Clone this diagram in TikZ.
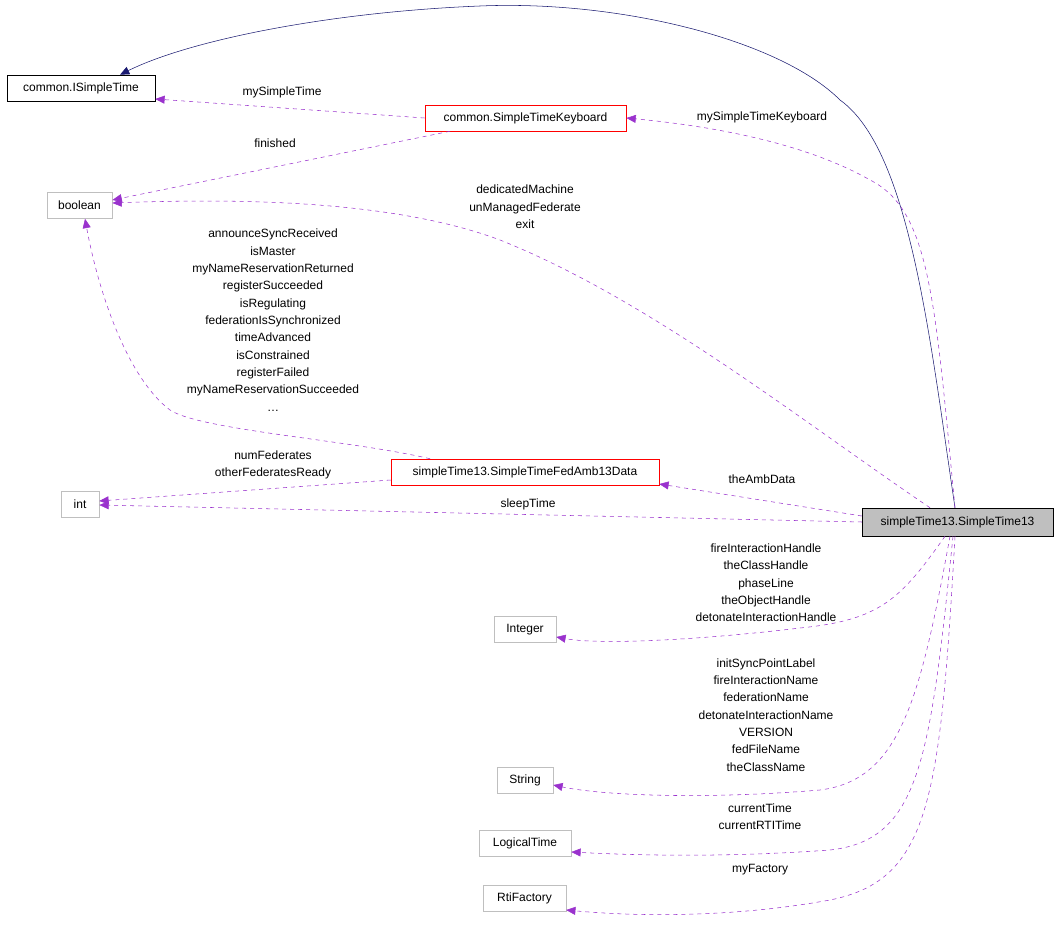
\documentclass[tikz,border=0pt]{standalone}
\usepackage{fontspec}
\setmainfont{Liberation Sans}
\usetikzlibrary{arrows.meta}
\definecolor{pur}{HTML}{9A32CD}
\definecolor{nav}{HTML}{191970}
\definecolor{gbox}{HTML}{BFBFBF}
\begin{document}
\begin{tikzpicture}[x=0.75pt,y=-0.75pt,font=\fontsize{9}{13}\selectfont,
  box/.style={draw,rectangle,inner sep=0pt,minimum height=19.5pt},
  blk/.style={box,draw=black},
  red/.style={box,draw=red},
  gry/.style={box,draw=gbox},
  dep/.style={draw=pur,dashed,-{Triangle[length=7pt,width=6pt]},fill=none},
  lab/.style={align=center,inner sep=0pt},
  ]
\useasboundingbox (0,0) rectangle (1059,930);
\node[blk,minimum width=111pt] (ist) at (81,88) {common.ISimpleTime};
\node[red,minimum width=151pt] (kbd) at (525.5,118) {common.SimpleTimeKeyboard};
\node[gry,minimum width=49pt] (bool) at (79.5,205.5) {boolean};
\node[red,minimum width=201pt] (amb) at (525,472) {simpleTime13.SimpleTimeFedAmb13Data};
\node[gry,minimum width=28.5pt] (int) at (80,504) {int};
\node[box,fill=gbox,minimum width=143pt,minimum height=21pt] (st) at (957.5,522) {simpleTime13.SimpleTime13};
\node[gry,minimum width=46.5pt] (integer) at (525,629.5) {Integer};
\node[gry,minimum width=42pt] (string) at (525,780.5) {String};
\node[gry,minimum width=69pt] (lt) at (525,843) {LogicalTime};
\node[gry,minimum width=62pt] (rti) at (524.5,898.5) {RtiFactory};

\draw[nav,-{Triangle[length=7pt,width=6pt]}] (st.north -| 955,0) .. controls (930,340) and (910,150) .. (840,100)
  .. controls (780,40) and (620,0) .. (480,6) .. controls (330,12) and (190,40) .. (ist.north -| 120,0);

\draw[dep] (kbd.west) -- (ist.east |- 0,99);
\node[lab] (l1) at (282,92) {mySimpleTime};
\draw[dep] (kbd.south -| 450,0) -- (bool.east |- 0,200);
\node[lab] (l2) at (275,143) {finished};
\draw[dep] (st.north -| 955,0) .. controls (935,300) and (930,210) .. (870,180) .. controls (800,140) and (700,125) .. (kbd.east);
\node[lab] (l3) at (762,117) {mySimpleTimeKeyboard};
\draw[dep] (st.north -| 930,0) .. controls (800,420) and (650,300) .. (500,240) .. controls (380,195) and (200,200) .. (bool.east |- 0,203);
\node[lab] (l4) at (525,207) {dedicatedMachine\\unManagedFederate\\exit};
\draw[dep] (amb.north -| 430,0) .. controls (350,440) and (200,430) .. (170,410) .. controls (130,380) and (100,300) .. (bool.south -| 85,0);
\node[lab] (l5) at (273,320) {announceSyncReceived\\isMaster\\myNameReservationReturned\\registerSucceeded\\isRegulating\\federationIsSynchronized\\timeAdvanced\\isConstrained\\registerFailed\\myNameReservationSucceeded\\\dots};
\draw[dep] (amb.west |- 0,480) -- (int.east |- 0,501);
\node[lab] (l6) at (273,465) {numFederates\\otherFederatesReady};
\draw[dep] (st.west |- 0,516) -- (amb.east |- 0,484);
\node[lab] (l7) at (762,479) {theAmbData};
\draw[dep] (st.west |- 0,522) -- (int.east |- 0,505);
\node[lab] (l8) at (528,504) {sleepTime};
\draw[dep] (st.south -| 945,0) .. controls (900,600) and (880,620) .. (800,628) .. controls (700,640) and (600,645) .. (integer.east |- 0,637);
\node[lab] (l9) at (766,583) {fireInteractionHandle\\theClassHandle\\phaseLine\\theObjectHandle\\detonateInteractionHandle};
\draw[dep] (st.south -| 950,0) .. controls (920,700) and (900,780) .. (820,790) .. controls (700,800) and (600,795) .. (string.east |- 0,785);
\node[lab] (l10) at (766,715) {initSyncPointLabel\\fireInteractionName\\federationName\\detonateInteractionName\\VERSION\\fedFileName\\theClassName};
\draw[dep] (st.south -| 953,0) .. controls (930,760) and (920,840) .. (830,850) .. controls (720,858) and (630,855) .. (lt.east |- 0,852);
\node[lab] (l11) at (760,817) {currentTime\\currentRTITime};
\draw[dep] (st.south -| 955,0) .. controls (940,800) and (930,880) .. (830,900) .. controls (720,920) and (620,915) .. (rti.east |- 0,910);
\node[lab] (l12) at (760,870) {myFactory};
\end{tikzpicture}
\end{document}
